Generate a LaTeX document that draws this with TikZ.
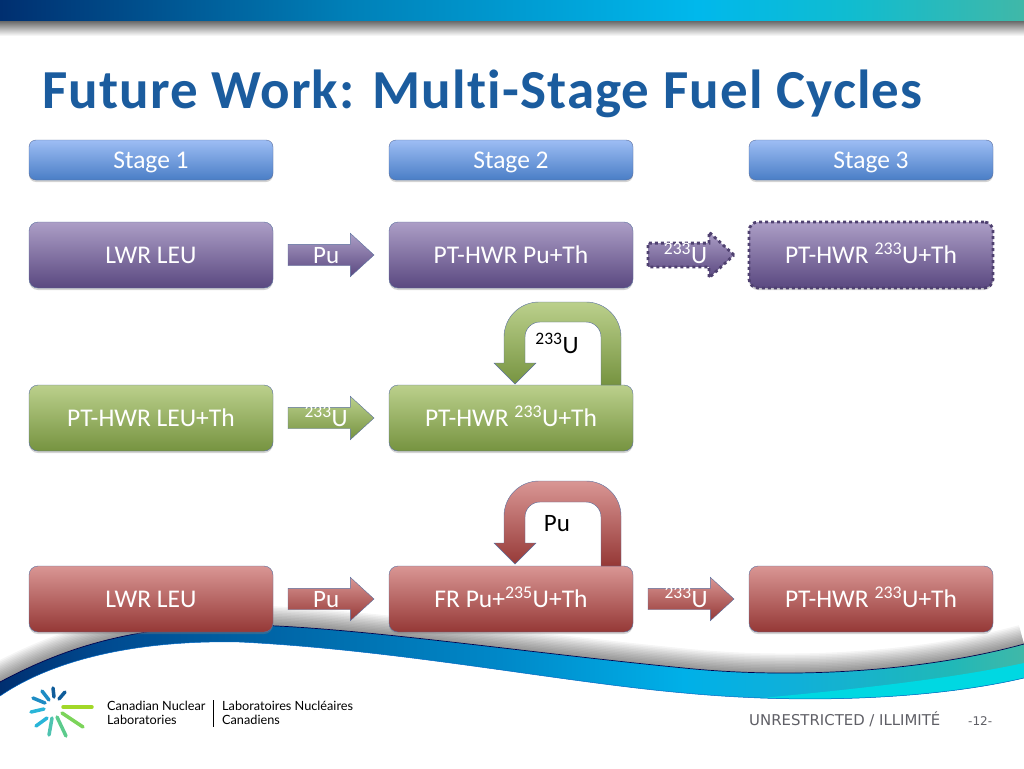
\documentclass[tikz,border=0pt]{standalone}
\usepackage{fontspec}
\setmainfont{Carlito}
\newfontfamily\titlefont[LetterSpace=2.1, Ligatures=NoCommon]{Carlito}
\newfontfamily\logofont{Lato}
\newfontfamily\footfont{DejaVu Sans}
\usetikzlibrary{calc, positioning, shapes.arrows, shadows}

\definecolor{titleblue}{HTML}{1B5C9E}
\definecolor{footgray}{HTML}{5F5F66}
\definecolor{edgeblue}{HTML}{5A6F9E}
\definecolor{sw0}{HTML}{002F70}
\definecolor{sw1}{HTML}{004A90}
\definecolor{sw2}{HTML}{0070B0}
\definecolor{sw3}{HTML}{0088C8}
\definecolor{sw4}{HTML}{00B0E8}
\definecolor{sw5}{HTML}{10B0D8}
\definecolor{sw6}{HTML}{20B8B8}
\definecolor{sw7}{HTML}{40B8A8}
\definecolor{bar2}{HTML}{0080B8}
\definecolor{bar3}{HTML}{00B8EC}
\definecolor{bar4}{HTML}{10BCD0}
\definecolor{bandcyan}{HTML}{00D8E2}
\definecolor{stagetop}{HTML}{9DBDF4}
\definecolor{stagebot}{HTML}{4A7EC6}
\definecolor{purpletop}{HTML}{AC9EC6}
\definecolor{purplebot}{HTML}{5A4880}
\definecolor{purpledash}{HTML}{4F4170}
\definecolor{greentop}{HTML}{BBD08C}
\definecolor{greenbot}{HTML}{769340}
\definecolor{redtop}{HTML}{D99694}
\definecolor{redbot}{HTML}{953836}
\definecolor{logoA}{HTML}{A2D828}
\definecolor{logoB}{HTML}{7CD45A}
\definecolor{logoC}{HTML}{5CCB8C}
\definecolor{logoD}{HTML}{4FC3B0}
\definecolor{logoE}{HTML}{29B5D8}
\definecolor{logoF}{HTML}{1E8CC4}
\definecolor{logoG}{HTML}{0F5C9A}
\pgfdeclarehorizontalshading{barshade}{100bp}{
  color(0bp)=(sw0); color(25bp)=(sw0); color(42bp)=(bar2); color(59bp)=(bar3);
  color(66.5bp)=(bar4); color(75bp)=(sw7); color(100bp)=(sw7)}
\pgfdeclarehorizontalshading{swooshshade}{100bp}{
  color(0bp)=(sw0); color(25bp)=(sw0); color(30bp)=(sw1); color(41.6bp)=(sw2); color(49.4bp)=(sw3);
  color(58.4bp)=(sw4); color(64bp)=(sw5); color(71.4bp)=(sw6); color(75bp)=(sw7); color(100bp)=(sw7)}

\begin{document}
\begin{tikzpicture}[x=1pt, y=-1pt, node distance=15pt,
    stagebox/.style = {rectangle, rounded corners=7pt, minimum width=244pt, minimum height=40pt,
        inner sep=0pt, outer sep=0pt, text=white, font=\fontsize{25.5}{29}\selectfont, text height=17pt, text depth=0pt,
        draw=edgeblue, top color=stagetop, bottom color=stagebot,
        drop shadow={shadow xshift=0pt, shadow yshift=-2pt, opacity=.35}},
    fuelbox/.style = {stagebox, minimum height=66pt, rounded corners=9pt},
    purplebox/.style = {draw=edgeblue, top color=purpletop, bottom color=purplebot},
    greenbox/.style = {draw=edgeblue, top color=greentop, bottom color=greenbot},
    redbox/.style = {draw=edgeblue, top color=redtop, bottom color=redbot},
    dashbox/.style = {draw=purpledash, line width=2.8pt, dash pattern=on 3pt off 3pt},
    flow/.style = {single arrow, minimum height=86pt, minimum width=43pt, inner xsep=0pt, inner ysep=10.5pt,
        outer sep=0pt, single arrow head extend=11pt, single arrow tip angle=85},
    flowtext/.style = {text=white, font=\fontsize{25}{29}\selectfont, text height=17pt, text depth=0pt, inner sep=0pt, xshift=1pt},
    looptext/.style = {font=\fontsize{25}{29}\selectfont, inner sep=0pt},
    swooshtop/.style = {insert path={(0,682) .. controls (60,650) and (130,625) .. (240,625)
        .. controls (340,625) and (520,652) .. (684,668) .. controls (800,680) and (930,670) .. (1024,644)}},
    swooshpath/.style = {swooshtop, insert path={-- (1024,678) .. controls (930,700) and (800,704) .. (684,693)
        .. controls (560,682) and (400,650) .. (240,642) .. controls (150,640) and (60,655) .. (0,696) -- cycle}}]

\useasboundingbox (0,0) rectangle (1024,768);

% top of the slide
\shade [shading=barshade] (0,0) rectangle (1024,22);
\shade [top color=black!55, bottom color=white] (0,22) rectangle (1024,36);

% swoosh at the bottom
\begin{scope}
    \clip [swooshtop] -- (1024,0) -- (0,0) -- cycle;
    \foreach \s in {3,6,...,39}
        \draw [black, opacity=.04, line width=\s pt, swooshtop];
\end{scope}
\shade [shading=swooshshade, swooshpath];
\begin{scope}
    \clip [swooshpath];
    \fill [bandcyan] (1024,663) .. controls (950,679) and (850,690) .. (740,700) -- (1024,710) -- cycle;
\end{scope}
\draw [black!70!blue, line width=.7pt, swooshtop];
\draw [black!40!blue!60!cyan, line width=.5pt] (1024,678) .. controls (930,700) and (800,704) .. (684,693)
    .. controls (560,682) and (400,650) .. (240,642) .. controls (150,640) and (60,655) .. (0,696);

\node (title) [anchor=base west, inner sep=0pt, text=titleblue, font=\titlefont\fontsize{55}{60}\selectfont\bfseries] at (42,108)
    {Future Work: Multi-Stage Fuel Cycles};

% stages
\node (stage1) [stagebox] at (151,160) {Stage 1};
\node (stage2) [stagebox, right=116pt of stage1] {Stage 2};
\node (stage3) [stagebox, right=116pt of stage2] {Stage 3};

% first row
\node (lwrA) [fuelbox, purplebox, below=42pt of stage1] {LWR LEU};
\node (puA) [flow, purplebox, right=of lwrA, label={[flowtext]center:Pu}] {};
\node (hwrA) [fuelbox, purplebox, right=of puA] {PT-HWR Pu+Th};
\node (uA) [flow, purplebox, dashbox, right=of hwrA, label={[flowtext]center:\textsuperscript{233}U}] {};
\node (hwrB) [fuelbox, purplebox, dashbox, right=of uA] {PT-HWR \textsuperscript{233}U+Th};

% second row
\node (leuTh) [fuelbox, greenbox, below=97pt of lwrA] {PT-HWR LEU+Th};
\node (uB) [flow, greenbox, right=of leuTh, label={[flowtext]center:\textsuperscript{233}U}] {};
\node (hwrC) [fuelbox, greenbox, right=of uB] {PT-HWR \textsuperscript{233}U+Th};

% third row
\node (lwrB) [fuelbox, redbox, below=115pt of leuTh] {LWR LEU};
\node (puB) [flow, redbox, right=of lwrB, label={[flowtext]center:Pu}] {};
\node (frA) [fuelbox, redbox, right=of puB] {FR Pu+\textsuperscript{235}U+Th};
\node (uC) [flow, redbox, right=of frA, label={[flowtext]center:\textsuperscript{233}U}] {};
\node (hwrD) [fuelbox, redbox, right=of uC] {PT-HWR \textsuperscript{233}U+Th};

% recycling arrows
\draw [greenbox] (621,385) -- (621,337) arc [start angle=0, end angle=90, radius=35pt] -- (539,302)
    arc [start angle=90, end angle=180, radius=35pt] -- (504,363) -- (494,363) -- (515,384) -- (536,363) -- (525,363)
    -- (525,337) arc [start angle=180, end angle=90, radius=15pt] -- (586,322)
    arc [start angle=90, end angle=0, radius=15pt] -- (601,385) -- cycle;
\draw [redbox] (621,566) -- (621,516) arc [start angle=0, end angle=90, radius=35pt] -- (539,481)
    arc [start angle=90, end angle=180, radius=35pt] -- (504,543) -- (494,543) -- (515,564) -- (536,543) -- (525,543)
    -- (525,517) arc [start angle=180, end angle=90, radius=15pt] -- (586,502)
    arc [start angle=90, end angle=0, radius=15pt] -- (601,566) -- cycle;
\node (loopU) [looptext] at (557,343) {\textsuperscript{233}U};
\node (loopPu) [looptext] at (557,524) {Pu};

% logo
\foreach \x/\y/\u/\v/\c in {63/707/92/707/logoA, 62/713/83/727/logoB, 57/717/66/736/logoC, 52/718/49/735/logoD,
        47/718/36/726/logoE, 44/709/31/712/logoE, 45/703/33/698/logoF, 49/700/42/691/logoF,
        54/697/53/688/logoG, 59/699/65/692/logoG}
    \draw [\c, line width=3.5pt, line cap=round] (\x,\y) -- (\u,\v);
\node (cnl) [anchor=north west, inner sep=0pt, align=left, font=\logofont\fontsize{12.7}{13.5}\selectfont] at (107,701)
    {Canadian Nuclear\\Laboratories};
\node (lnc) [anchor=north west, inner sep=0pt, align=left, font=\logofont\fontsize{12.7}{13.5}\selectfont] at (222,701)
    {Laboratoires Nucléaires\\Canadiens};
\draw [line width=.8pt] (213.5,700) -- (213.5,727);

% footer
\node (foot) [anchor=base west, inner sep=0pt, text=footgray, font=\footfont\fontsize{14.9}{17}\selectfont] at (749,725) {UNRESTRICTED / ILLIMITÉ};
\node (page) [anchor=base west, inner sep=0pt, text=footgray, font=\footfont\fontsize{12}{15}\selectfont] at (968,725) {-12-};
\end{tikzpicture}
\end{document}
